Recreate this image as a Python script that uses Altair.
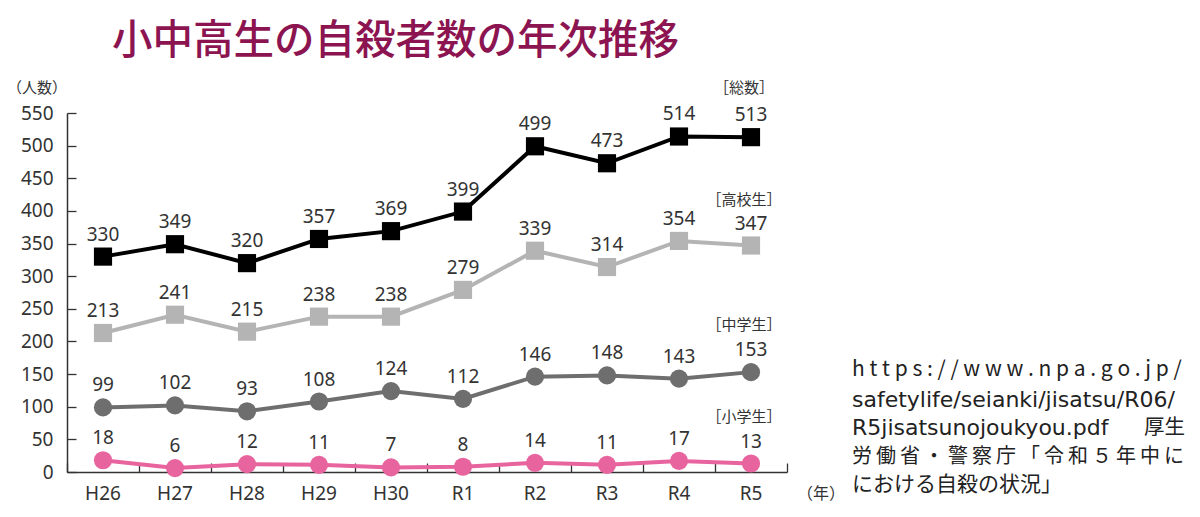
import altair as alt
import pandas as pd

years = ["H26", "H27", "H28", "H29", "H30", "R1", "R2", "R3", "R4", "R5"]
total = [330, 349, 320, 357, 369, 399, 499, 473, 514, 513]
high = [213, 241, 215, 238, 238, 279, 339, 314, 354, 347]
junior = [99, 102, 93, 108, 124, 112, 146, 148, 143, 153]
elem = [18, 6, 12, 11, 7, 8, 14, 11, 17, 13]

series_names = ["総数", "高校生", "中学生", "小学生"]
series_colors = ["#000000", "#B4B4B4", "#6E6E6E", "#E8649E"]
series_shapes = ["square", "square", "circle", "circle"]
series_sizes = [330, 330, 230, 230]
series_values = [total, high, junior, elem]

rows = []
for name, vals in zip(series_names, series_values):
    for y, v in zip(years, vals):
        rows.append({"year": y, "series": name, "value": v})
df = pd.DataFrame(rows)

W, H = 720, 359
FONT = "Noto Sans, sans-serif"
JP = "Noto Sans CJK JP"
LAT = "DejaVu Sans"

xs = alt.Scale(domain=years, paddingInner=0, paddingOuter=0)
ys = alt.Scale(domain=[0, 550], nice=False, zero=True)
cscale = alt.Scale(domain=series_names, range=series_colors)

base = alt.Chart(df)

lines = base.mark_line(strokeWidth=4).encode(
    x=alt.X("year:N", scale=xs, sort=years,
            axis=alt.Axis(title=None, orient="bottom", labelAngle=0, ticks=False,
                          domainColor="#333", domainWidth=1.5, labelFont=FONT,
                          labelFontSize=19, labelColor="#333", labelPadding=12)),
    y=alt.Y("value:Q", scale=ys,
            axis=alt.Axis(title=None, orient="left", values=list(range(0, 551, 50)),
                          ticks=False, grid=False, domainColor="#333", domainWidth=1.5,
                          labelFont=FONT, labelFontSize=19, labelColor="#333",
                          labelPadding=14)),
    color=alt.Color("series:N", scale=cscale, legend=None),
    detail="series:N",
)

# inward-pointing ticks: axes on the opposite sides, shifted onto the main axis lines
points = base.mark_point(filled=True, opacity=1).encode(
    x=alt.X("year:N", scale=xs, sort=years,
            axis=alt.Axis(title=None, orient="top", offset=-H, labels=False, domain=False,
                          ticks=True, tickBand="extent", tickSize=9, tickColor="#333",
                          tickWidth=1.3)),
    y=alt.Y("value:Q", scale=ys,
            axis=alt.Axis(title=None, orient="right", offset=-W, labels=False, domain=False,
                          values=list(range(0, 551, 50)), ticks=True, tickSize=9,
                          tickColor="#333", tickWidth=1.3, grid=False)),
    color=alt.Color("series:N", scale=cscale, legend=None),
    shape=alt.Shape("series:N", scale=alt.Scale(domain=series_names, range=series_shapes), legend=None),
    size=alt.Size("series:N", scale=alt.Scale(domain=series_names, range=series_sizes), legend=None),
)

labels = base.mark_text(dy=-22, fontSize=19, font=FONT, color="#333").encode(
    x=alt.X("year:N", scale=xs, sort=years, axis=None),
    y=alt.Y("value:Q", scale=ys, axis=None),
    text="value:Q",
)

# annotations
title_txt = ["小中高生の自殺者数の年次推移"]
title = alt.Chart(pd.DataFrame({"t": title_txt})).mark_text(
    align="left", baseline="middle", fontSize=40.5, font=JP, fontWeight=500, color="#8C1450"
).encode(x=alt.value(45), y=alt.value(-71), text="t:N")

tag_texts = ["［総数］", "［高校生］", "［中学生］", "［小学生］"]
tag_y = [-25, 87, 212, 304]
tags = alt.Chart(pd.DataFrame({"t": tag_texts, "py": tag_y})).mark_text(
    align="center", baseline="middle", fontSize=15, font=JP, color="#333"
).encode(x=alt.value(677), y=alt.Y("py:Q", scale=None, axis=None), text="t:N")

unit_y = alt.Chart(pd.DataFrame({"t": ["（人数）"]})).mark_text(
    align="left", baseline="middle", fontSize=15, font=JP, color="#333"
).encode(x=alt.value(-60), y=alt.value(-25), text="t:N")
unit_x = alt.Chart(pd.DataFrame({"t": ["（年）"]})).mark_text(
    align="left", baseline="middle", fontSize=16, font=JP, color="#333"
).encode(x=alt.value(730), y=alt.value(381), text="t:N")

T = "\u2009"
src_url = ["h t t p s : / / w w w . n p a . g o . j p /"]
src_lat = ["safetylife/seianki/jisatsu/R06/", "R5jisatsunojoukyou.pdf"]
src_lat_y = [287, 315]
src_jp4 = [T.join("労働省・警察庁「令和５年中に")]
src_jp5 = ["における自殺の状況」"]

source_url = alt.Chart(pd.DataFrame({"t": src_url})).mark_text(
    align="left", baseline="middle", fontSize=21, font=JP, color="#222"
).encode(x=alt.value(785), y=alt.value(257), text="t:N")
source_lat = alt.Chart(pd.DataFrame({"t": src_lat, "py": src_lat_y})).mark_text(
    align="left", baseline="middle", fontSize=22, font=LAT, color="#222"
).encode(x=alt.value(785), y=alt.Y("py:Q", scale=None, axis=None), text="t:N")
source_jp4 = alt.Chart(pd.DataFrame({"t": src_jp4})).mark_text(
    align="left", baseline="middle", fontSize=20, font=JP, color="#222"
).encode(x=alt.value(785), y=alt.value(344), text="t:N")
source_jp5 = alt.Chart(pd.DataFrame({"t": src_jp5})).mark_text(
    align="left", baseline="middle", fontSize=21, font=JP, color="#222"
).encode(x=alt.value(785), y=alt.value(372), text="t:N")
source2 = alt.Chart(pd.DataFrame({"t": ["厚生"]})).mark_text(
    align="right", baseline="middle", fontSize=20.5, font=JP, color="#222"
).encode(x=alt.value(1118), y=alt.value(315), text="t:N")

chart = alt.layer(lines, points, labels, title, tags, unit_y, unit_x,
                  source_url, source_lat, source_jp4, source_jp5, source2).resolve_axis(
    x="independent", y="independent"
).properties(
    width=W, height=H,
    autosize=alt.AutoSizeParams(type="none"),
    padding={"left": 67 - 8, "top": 113 - 8, "right": 1184 - 59 - W, "bottom": 501 - 105 - H},
    background="white",
).configure_view(stroke=None)

chart.save("out.html", embed_options={"renderer": "svg", "actions": False})
